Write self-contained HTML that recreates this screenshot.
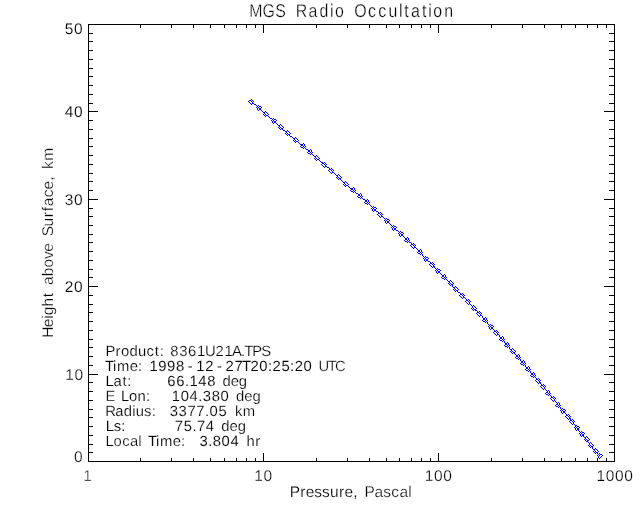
<!DOCTYPE html>
<html lang="en">
<head>
<meta charset="utf-8">
<title>MGS Radio Occultation</title>
<style>
html,body{margin:0;padding:0;background:#fff;width:640px;height:512px;overflow:hidden}
svg{display:block}
text{text-rendering:geometricPrecision}
</style>
</head>
<body>
<svg width="640" height="512" viewBox="0 0 640 512">
<rect x="0" y="0" width="640" height="512" fill="#ffffff"/>
<g class="axes" shape-rendering="crispEdges" fill="none" stroke="#000000" stroke-width="1"><rect x="88.5" y="24.5" width="526" height="437"/><path d="M140.5 462v-4M140.5 24v4M171.5 462v-4M171.5 24v4M193.5 462v-4M193.5 24v4M210.5 462v-4M210.5 24v4M224.5 462v-4M224.5 24v4M236.5 462v-4M236.5 24v4M246.5 462v-4M246.5 24v4M255.5 462v-4M255.5 24v4M263.5 462v-9M263.5 24v9M316.5 462v-4M316.5 24v4M347.5 462v-4M347.5 24v4M369.5 462v-4M369.5 24v4M386.5 462v-4M386.5 24v4M399.5 462v-4M399.5 24v4M411.5 462v-4M411.5 24v4M421.5 462v-4M421.5 24v4M430.5 462v-4M430.5 24v4M438.5 462v-9M438.5 24v9M491.5 462v-4M491.5 24v4M522.5 462v-4M522.5 24v4M544.5 462v-4M544.5 24v4M561.5 462v-4M561.5 24v4M575.5 462v-4M575.5 24v4M587.5 462v-4M587.5 24v4M597.5 462v-4M597.5 24v4M606.5 462v-4M606.5 24v4M88 452.5h5M615 452.5h-6M88 444.5h5M615 444.5h-6M88 435.5h5M615 435.5h-6M88 426.5h5M615 426.5h-6M88 417.5h5M615 417.5h-6M88 409.5h5M615 409.5h-6M88 400.5h5M615 400.5h-6M88 391.5h5M615 391.5h-6M88 382.5h5M615 382.5h-6M88 374.5h10M615 374.5h-11M88 365.5h5M615 365.5h-6M88 356.5h5M615 356.5h-6M88 347.5h5M615 347.5h-6M88 339.5h5M615 339.5h-6M88 330.5h5M615 330.5h-6M88 321.5h5M615 321.5h-6M88 312.5h5M615 312.5h-6M88 304.5h5M615 304.5h-6M88 295.5h5M615 295.5h-6M88 286.5h10M615 286.5h-11M88 277.5h5M615 277.5h-6M88 269.5h5M615 269.5h-6M88 260.5h5M615 260.5h-6M88 251.5h5M615 251.5h-6M88 242.5h5M615 242.5h-6M88 234.5h5M615 234.5h-6M88 225.5h5M615 225.5h-6M88 216.5h5M615 216.5h-6M88 208.5h5M615 208.5h-6M88 199.5h10M615 199.5h-11M88 190.5h5M615 190.5h-6M88 181.5h5M615 181.5h-6M88 173.5h5M615 173.5h-6M88 164.5h5M615 164.5h-6M88 155.5h5M615 155.5h-6M88 146.5h5M615 146.5h-6M88 138.5h5M615 138.5h-6M88 129.5h5M615 129.5h-6M88 120.5h5M615 120.5h-6M88 111.5h10M615 111.5h-11M88 103.5h5M615 103.5h-6M88 94.5h5M615 94.5h-6M88 85.5h5M615 85.5h-6M88 76.5h5M615 76.5h-6M88 68.5h5M615 68.5h-6M88 59.5h5M615 59.5h-6M88 50.5h5M615 50.5h-6M88 41.5h5M615 41.5h-6M88 33.5h5M615 33.5h-6"/></g>
<path class="data" shape-rendering="crispEdges" fill="#0000ff" d="M251 99h1v1h-1zM249 100h2v1h-2zM252 100h1v1h-1zM248 101h1v1h-1zM251 101h1v1h-1zM253 101h1v1h-1zM249 102h1v1h-1zM252 102h1v1h-1zM250 103h1v1h-1zM252 103h2v1h-2zM251 104h1v1h-1zM254 104h2v1h-2zM256 105h1v1h-1zM258 105h1v1h-1zM257 106h1v1h-1zM259 106h2v1h-2zM256 107h1v1h-1zM258 107h1v1h-1zM261 107h1v1h-1zM257 108h1v1h-1zM259 108h2v1h-2zM257 109h1v1h-1zM259 109h2v1h-2zM258 110h1v1h-1zM261 110h1v1h-1zM262 111h1v1h-1zM265 111h1v1h-1zM263 112h2v1h-2zM266 112h1v1h-1zM264 113h1v1h-1zM267 113h1v1h-1zM263 114h1v1h-1zM265 114h1v1h-1zM268 114h1v1h-1zM264 115h1v1h-1zM266 115h2v1h-2zM265 116h1v1h-1zM268 116h1v1h-1zM269 117h1v1h-1zM270 118h2v1h-2zM273 118h1v1h-1zM272 119h1v1h-1zM274 119h2v1h-2zM271 120h1v1h-1zM273 120h1v1h-1zM276 120h1v1h-1zM272 121h1v1h-1zM274 121h2v1h-2zM272 122h1v1h-1zM274 122h2v1h-2zM273 123h1v1h-1zM276 123h1v1h-1zM277 124h1v1h-1zM280 124h1v1h-1zM278 125h2v1h-2zM281 125h1v1h-1zM279 126h1v1h-1zM282 126h1v1h-1zM278 127h1v1h-1zM280 127h1v1h-1zM283 127h1v1h-1zM279 128h1v1h-1zM281 128h2v1h-2zM280 129h1v1h-1zM282 129h1v1h-1zM283 130h2v1h-2zM287 130h1v1h-1zM285 131h2v1h-2zM288 131h1v1h-1zM286 132h1v1h-1zM289 132h1v1h-1zM285 133h1v1h-1zM287 133h1v1h-1zM290 133h1v1h-1zM286 134h1v1h-1zM288 134h2v1h-2zM287 135h1v1h-1zM289 135h1v1h-1zM290 136h2v1h-2zM292 137h1v1h-1zM295 137h1v1h-1zM293 138h2v1h-2zM296 138h1v1h-1zM294 139h1v1h-1zM297 139h1v1h-1zM293 140h1v1h-1zM295 140h1v1h-1zM298 140h1v1h-1zM294 141h1v1h-1zM296 141h2v1h-2zM295 142h1v1h-1zM298 142h1v1h-1zM299 143h1v1h-1zM303 143h1v1h-1zM300 144h3v1h-3zM304 144h1v1h-1zM301 145h2v1h-2zM304 145h1v1h-1zM300 146h1v1h-1zM303 146h1v1h-1zM305 146h1v1h-1zM301 147h2v1h-2zM304 147h1v1h-1zM303 148h1v1h-1zM305 148h1v1h-1zM306 149h2v1h-2zM310 149h1v1h-1zM308 150h2v1h-2zM311 150h1v1h-1zM308 151h2v1h-2zM311 151h1v1h-1zM307 152h1v1h-1zM310 152h1v1h-1zM312 152h1v1h-1zM308 153h2v1h-2zM311 153h1v1h-1zM310 154h1v1h-1zM312 154h1v1h-1zM313 155h1v1h-1zM316 155h1v1h-1zM314 156h2v1h-2zM317 156h1v1h-1zM315 157h1v1h-1zM318 157h1v1h-1zM314 158h1v1h-1zM316 158h1v1h-1zM319 158h1v1h-1zM315 159h1v1h-1zM317 159h2v1h-2zM316 160h1v1h-1zM319 160h1v1h-1zM320 161h1v1h-1zM321 162h2v1h-2zM324 162h1v1h-1zM322 163h2v1h-2zM325 163h1v1h-1zM321 164h1v1h-1zM324 164h1v1h-1zM326 164h1v1h-1zM322 165h1v1h-1zM325 165h1v1h-1zM323 166h1v1h-1zM325 166h2v1h-2zM324 167h1v1h-1zM327 167h2v1h-2zM329 168h1v1h-1zM331 168h1v1h-1zM329 169h2v1h-2zM332 169h1v1h-1zM328 170h1v1h-1zM331 170h1v1h-1zM333 170h1v1h-1zM329 171h1v1h-1zM332 171h1v1h-1zM330 172h1v1h-1zM332 172h2v1h-2zM331 173h1v1h-1zM334 173h1v1h-1zM335 174h1v1h-1zM338 174h1v1h-1zM336 175h2v1h-2zM339 175h1v1h-1zM337 176h1v1h-1zM340 176h1v1h-1zM336 177h1v1h-1zM338 177h1v1h-1zM341 177h1v1h-1zM337 178h1v1h-1zM339 178h2v1h-2zM338 179h1v1h-1zM340 179h1v1h-1zM341 180h1v1h-1zM342 181h1v1h-1zM345 181h1v1h-1zM343 182h2v1h-2zM346 182h1v1h-1zM344 183h1v1h-1zM347 183h1v1h-1zM343 184h1v1h-1zM345 184h1v1h-1zM348 184h1v1h-1zM344 185h1v1h-1zM346 185h2v1h-2zM345 186h1v1h-1zM348 186h1v1h-1zM349 187h1v1h-1zM353 187h1v1h-1zM350 188h3v1h-3zM354 188h1v1h-1zM351 189h2v1h-2zM354 189h1v1h-1zM350 190h1v1h-1zM353 190h1v1h-1zM355 190h1v1h-1zM351 191h2v1h-2zM354 191h1v1h-1zM353 192h1v1h-1zM355 192h1v1h-1zM356 193h2v1h-2zM360 193h1v1h-1zM358 194h2v1h-2zM361 194h1v1h-1zM358 195h2v1h-2zM361 195h1v1h-1zM357 196h1v1h-1zM360 196h1v1h-1zM362 196h1v1h-1zM358 197h2v1h-2zM361 197h1v1h-1zM360 198h1v1h-1zM362 198h1v1h-1zM363 199h2v1h-2zM367 199h1v1h-1zM365 200h2v1h-2zM368 200h1v1h-1zM365 201h2v1h-2zM368 201h1v1h-1zM364 202h1v1h-1zM367 202h1v1h-1zM369 202h1v1h-1zM365 203h2v1h-2zM368 203h1v1h-1zM367 204h1v1h-1zM369 204h1v1h-1zM370 205h1v1h-1zM371 206h1v1h-1zM373 206h1v1h-1zM372 207h1v1h-1zM374 207h2v1h-2zM371 208h1v1h-1zM373 208h1v1h-1zM376 208h1v1h-1zM372 209h1v1h-1zM374 209h2v1h-2zM372 210h1v1h-1zM374 210h2v1h-2zM373 211h1v1h-1zM376 211h2v1h-2zM378 212h1v1h-1zM380 212h1v1h-1zM378 213h2v1h-2zM381 213h1v1h-1zM377 214h1v1h-1zM380 214h1v1h-1zM382 214h1v1h-1zM378 215h1v1h-1zM381 215h1v1h-1zM379 216h1v1h-1zM381 216h2v1h-2zM380 217h1v1h-1zM383 217h1v1h-1zM384 218h1v1h-1zM386 218h1v1h-1zM385 219h1v1h-1zM387 219h2v1h-2zM384 220h1v1h-1zM386 220h1v1h-1zM389 220h1v1h-1zM385 221h1v1h-1zM387 221h2v1h-2zM385 222h1v1h-1zM387 222h2v1h-2zM386 223h1v1h-1zM389 223h1v1h-1zM390 224h1v1h-1zM391 225h1v1h-1zM393 225h1v1h-1zM392 226h1v1h-1zM394 226h2v1h-2zM391 227h1v1h-1zM393 227h1v1h-1zM396 227h1v1h-1zM392 228h1v1h-1zM394 228h2v1h-2zM392 229h1v1h-1zM394 229h2v1h-2zM393 230h1v1h-1zM396 230h2v1h-2zM398 231h1v1h-1zM400 231h1v1h-1zM399 232h1v1h-1zM401 232h2v1h-2zM398 233h1v1h-1zM400 233h1v1h-1zM403 233h1v1h-1zM399 234h1v1h-1zM401 234h2v1h-2zM399 235h1v1h-1zM401 235h2v1h-2zM400 236h1v1h-1zM403 236h1v1h-1zM404 237h1v1h-1zM407 237h1v1h-1zM405 238h2v1h-2zM408 238h1v1h-1zM405 239h2v1h-2zM408 239h1v1h-1zM404 240h1v1h-1zM407 240h1v1h-1zM409 240h1v1h-1zM405 241h2v1h-2zM408 241h1v1h-1zM407 242h1v1h-1zM409 242h2v1h-2zM411 243h1v1h-1zM413 243h1v1h-1zM411 244h2v1h-2zM414 244h1v1h-1zM410 245h1v1h-1zM413 245h1v1h-1zM415 245h1v1h-1zM411 246h1v1h-1zM414 246h1v1h-1zM412 247h1v1h-1zM414 247h2v1h-2zM413 248h1v1h-1zM416 248h1v1h-1zM417 249h1v1h-1zM420 249h1v1h-1zM418 250h2v1h-2zM421 250h1v1h-1zM418 251h2v1h-2zM421 251h1v1h-1zM417 252h1v1h-1zM420 252h1v1h-1zM422 252h1v1h-1zM418 253h2v1h-2zM421 253h1v1h-1zM420 254h1v1h-1zM422 254h1v1h-1zM422 255h1v1h-1zM423 256h1v1h-1zM425 256h1v1h-1zM424 257h1v1h-1zM426 257h2v1h-2zM423 258h1v1h-1zM425 258h1v1h-1zM428 258h1v1h-1zM424 259h1v1h-1zM426 259h2v1h-2zM424 260h1v1h-1zM426 260h2v1h-2zM425 261h1v1h-1zM428 261h2v1h-2zM430 262h1v1h-1zM432 262h1v1h-1zM430 263h2v1h-2zM433 263h1v1h-1zM429 264h1v1h-1zM432 264h1v1h-1zM434 264h1v1h-1zM430 265h1v1h-1zM433 265h1v1h-1zM431 266h1v1h-1zM433 266h2v1h-2zM432 267h1v1h-1zM434 267h1v1h-1zM435 268h1v1h-1zM437 268h1v1h-1zM436 269h1v1h-1zM438 269h2v1h-2zM435 270h1v1h-1zM437 270h1v1h-1zM440 270h1v1h-1zM436 271h1v1h-1zM438 271h2v1h-2zM436 272h1v1h-1zM438 272h2v1h-2zM437 273h1v1h-1zM440 273h1v1h-1zM441 274h1v1h-1zM444 274h1v1h-1zM442 275h2v1h-2zM445 275h1v1h-1zM442 276h2v1h-2zM445 276h1v1h-1zM441 277h1v1h-1zM444 277h1v1h-1zM446 277h1v1h-1zM442 278h2v1h-2zM445 278h1v1h-1zM444 279h1v1h-1zM446 279h1v1h-1zM447 280h1v1h-1zM450 280h1v1h-1zM448 281h2v1h-2zM451 281h1v1h-1zM449 282h1v1h-1zM452 282h1v1h-1zM448 283h1v1h-1zM450 283h1v1h-1zM453 283h1v1h-1zM449 284h1v1h-1zM451 284h2v1h-2zM450 285h1v1h-1zM452 285h1v1h-1zM452 286h1v1h-1zM455 286h1v1h-1zM453 287h2v1h-2zM456 287h1v1h-1zM454 288h1v1h-1zM457 288h1v1h-1zM453 289h1v1h-1zM455 289h1v1h-1zM458 289h1v1h-1zM454 290h1v1h-1zM456 290h2v1h-2zM455 291h1v1h-1zM457 291h1v1h-1zM458 292h2v1h-2zM460 293h1v1h-1zM462 293h1v1h-1zM460 294h2v1h-2zM463 294h1v1h-1zM459 295h1v1h-1zM462 295h1v1h-1zM464 295h1v1h-1zM460 296h1v1h-1zM463 296h1v1h-1zM461 297h1v1h-1zM463 297h2v1h-2zM462 298h1v1h-1zM465 298h1v1h-1zM466 299h1v1h-1zM468 299h1v1h-1zM466 300h2v1h-2zM469 300h1v1h-1zM465 301h1v1h-1zM468 301h1v1h-1zM470 301h1v1h-1zM466 302h1v1h-1zM469 302h1v1h-1zM467 303h1v1h-1zM469 303h1v1h-1zM468 304h1v1h-1zM470 304h1v1h-1zM471 305h1v1h-1zM473 305h1v1h-1zM472 306h1v1h-1zM474 306h1v1h-1zM472 307h1v1h-1zM475 307h1v1h-1zM471 308h1v1h-1zM473 308h1v1h-1zM476 308h1v1h-1zM472 309h1v1h-1zM474 309h2v1h-2zM473 310h1v1h-1zM475 310h2v1h-2zM477 311h1v1h-1zM479 311h1v1h-1zM477 312h2v1h-2zM480 312h1v1h-1zM476 313h1v1h-1zM479 313h1v1h-1zM481 313h1v1h-1zM477 314h1v1h-1zM480 314h1v1h-1zM478 315h1v1h-1zM480 315h2v1h-2zM479 316h1v1h-1zM482 316h1v1h-1zM482 317h1v1h-1zM485 317h1v1h-1zM483 318h2v1h-2zM486 318h1v1h-1zM483 319h2v1h-2zM486 319h1v1h-1zM482 320h1v1h-1zM485 320h1v1h-1zM487 320h1v1h-1zM483 321h2v1h-2zM486 321h1v1h-1zM485 322h1v1h-1zM487 322h1v1h-1zM487 323h1v1h-1zM488 324h1v1h-1zM490 324h1v1h-1zM489 325h1v1h-1zM491 325h2v1h-2zM488 326h1v1h-1zM490 326h1v1h-1zM493 326h1v1h-1zM489 327h1v1h-1zM491 327h2v1h-2zM489 328h1v1h-1zM491 328h2v1h-2zM490 329h1v1h-1zM493 329h1v1h-1zM494 330h1v1h-1zM496 330h1v1h-1zM494 331h2v1h-2zM497 331h1v1h-1zM493 332h1v1h-1zM496 332h1v1h-1zM498 332h1v1h-1zM494 333h1v1h-1zM497 333h1v1h-1zM495 334h1v1h-1zM497 334h2v1h-2zM496 335h1v1h-1zM499 335h1v1h-1zM499 336h1v1h-1zM502 336h1v1h-1zM500 337h2v1h-2zM503 337h1v1h-1zM500 338h2v1h-2zM503 338h1v1h-1zM499 339h1v1h-1zM502 339h1v1h-1zM504 339h1v1h-1zM500 340h2v1h-2zM503 340h1v1h-1zM502 341h1v1h-1zM504 341h1v1h-1zM504 342h1v1h-1zM507 342h1v1h-1zM505 343h2v1h-2zM508 343h1v1h-1zM505 344h2v1h-2zM508 344h1v1h-1zM504 345h1v1h-1zM507 345h1v1h-1zM509 345h1v1h-1zM505 346h2v1h-2zM508 346h1v1h-1zM507 347h1v1h-1zM509 347h1v1h-1zM509 348h1v1h-1zM512 348h1v1h-1zM510 349h2v1h-2zM513 349h1v1h-1zM511 350h1v1h-1zM514 350h1v1h-1zM510 351h1v1h-1zM512 351h1v1h-1zM515 351h1v1h-1zM511 352h1v1h-1zM513 352h2v1h-2zM512 353h1v1h-1zM514 353h1v1h-1zM515 354h1v1h-1zM518 354h1v1h-1zM516 355h2v1h-2zM519 355h1v1h-1zM516 356h2v1h-2zM519 356h1v1h-1zM515 357h1v1h-1zM518 357h1v1h-1zM520 357h1v1h-1zM516 358h2v1h-2zM519 358h1v1h-1zM518 359h1v1h-1zM520 359h1v1h-1zM520 360h1v1h-1zM523 360h1v1h-1zM521 361h2v1h-2zM524 361h1v1h-1zM521 362h2v1h-2zM524 362h1v1h-1zM520 363h1v1h-1zM523 363h1v1h-1zM525 363h1v1h-1zM521 364h2v1h-2zM524 364h1v1h-1zM523 365h1v1h-1zM525 365h1v1h-1zM525 366h1v1h-1zM528 366h1v1h-1zM526 367h2v1h-2zM529 367h1v1h-1zM526 368h2v1h-2zM529 368h1v1h-1zM525 369h1v1h-1zM528 369h1v1h-1zM530 369h1v1h-1zM526 370h2v1h-2zM529 370h1v1h-1zM528 371h1v1h-1zM530 371h1v1h-1zM530 372h1v1h-1zM533 372h1v1h-1zM531 373h2v1h-2zM534 373h1v1h-1zM531 374h2v1h-2zM534 374h1v1h-1zM530 375h1v1h-1zM533 375h1v1h-1zM535 375h1v1h-1zM531 376h2v1h-2zM534 376h1v1h-1zM533 377h1v1h-1zM535 377h1v1h-1zM536 378h1v1h-1zM538 378h1v1h-1zM536 379h2v1h-2zM539 379h1v1h-1zM535 380h1v1h-1zM538 380h1v1h-1zM540 380h1v1h-1zM536 381h1v1h-1zM539 381h1v1h-1zM537 382h1v1h-1zM539 382h2v1h-2zM538 383h1v1h-1zM540 383h1v1h-1zM541 384h1v1h-1zM543 384h1v1h-1zM541 385h2v1h-2zM544 385h1v1h-1zM540 386h1v1h-1zM543 386h1v1h-1zM545 386h1v1h-1zM541 387h1v1h-1zM544 387h1v1h-1zM542 388h1v1h-1zM544 388h1v1h-1zM543 389h1v1h-1zM545 389h1v1h-1zM546 390h1v1h-1zM548 390h1v1h-1zM547 391h1v1h-1zM549 391h1v1h-1zM546 392h2v1h-2zM549 392h1v1h-1zM545 393h1v1h-1zM548 393h1v1h-1zM550 393h1v1h-1zM546 394h2v1h-2zM549 394h1v1h-1zM548 395h1v1h-1zM550 395h1v1h-1zM551 396h1v1h-1zM553 396h1v1h-1zM551 397h2v1h-2zM554 397h1v1h-1zM550 398h1v1h-1zM553 398h1v1h-1zM555 398h1v1h-1zM551 399h1v1h-1zM554 399h1v1h-1zM552 400h1v1h-1zM554 400h1v1h-1zM553 401h1v1h-1zM555 401h1v1h-1zM556 402h1v1h-1zM558 402h1v1h-1zM557 403h1v1h-1zM559 403h1v1h-1zM556 404h2v1h-2zM559 404h1v1h-1zM555 405h1v1h-1zM558 405h1v1h-1zM560 405h1v1h-1zM556 406h2v1h-2zM559 406h1v1h-1zM558 407h1v1h-1zM560 407h1v1h-1zM560 408h1v1h-1zM562 408h1v1h-1zM561 409h1v1h-1zM563 409h2v1h-2zM560 410h1v1h-1zM562 410h1v1h-1zM565 410h1v1h-1zM561 411h1v1h-1zM563 411h2v1h-2zM561 412h1v1h-1zM563 412h2v1h-2zM562 413h1v1h-1zM565 413h1v1h-1zM566 414h1v1h-1zM568 414h1v1h-1zM566 415h2v1h-2zM569 415h1v1h-1zM565 416h1v1h-1zM568 416h1v1h-1zM570 416h1v1h-1zM566 417h1v1h-1zM569 417h1v1h-1zM567 418h1v1h-1zM569 418h2v1h-2zM568 419h1v1h-1zM570 419h1v1h-1zM572 419h1v1h-1zM570 420h2v1h-2zM573 420h1v1h-1zM569 421h1v1h-1zM572 421h1v1h-1zM574 421h1v1h-1zM570 422h1v1h-1zM573 422h1v1h-1zM571 423h1v1h-1zM573 423h1v1h-1zM572 424h1v1h-1zM574 424h1v1h-1zM575 425h2v1h-2zM575 426h1v1h-1zM577 426h2v1h-2zM574 427h1v1h-1zM576 427h1v1h-1zM579 427h1v1h-1zM575 428h1v1h-1zM577 428h2v1h-2zM575 429h1v1h-1zM577 429h2v1h-2zM576 430h1v1h-1zM578 430h1v1h-1zM579 431h1v1h-1zM581 431h1v1h-1zM580 432h1v1h-1zM582 432h2v1h-2zM579 433h1v1h-1zM581 433h1v1h-1zM584 433h1v1h-1zM580 434h1v1h-1zM582 434h2v1h-2zM580 435h1v1h-1zM582 435h2v1h-2zM581 436h1v1h-1zM583 436h1v1h-1zM586 436h1v1h-1zM584 437h2v1h-2zM587 437h1v1h-1zM585 438h1v1h-1zM588 438h1v1h-1zM584 439h1v1h-1zM586 439h1v1h-1zM589 439h1v1h-1zM585 440h1v1h-1zM587 440h2v1h-2zM586 441h2v1h-2zM588 442h1v1h-1zM590 442h1v1h-1zM589 443h1v1h-1zM591 443h1v1h-1zM589 444h1v1h-1zM592 444h1v1h-1zM588 445h1v1h-1zM590 445h1v1h-1zM593 445h1v1h-1zM589 446h1v1h-1zM591 446h2v1h-2zM590 447h1v1h-1zM592 447h1v1h-1zM592 448h1v1h-1zM595 448h1v1h-1zM593 449h2v1h-2zM596 449h1v1h-1zM594 450h1v1h-1zM597 450h1v1h-1zM593 451h1v1h-1zM595 451h1v1h-1zM598 451h1v1h-1zM594 452h1v1h-1zM596 452h2v1h-2zM595 453h1v1h-1zM597 453h1v1h-1zM599 453h1v1h-1zM598 454h1v1h-1zM600 454h2v1h-2zM597 455h1v1h-1zM599 455h1v1h-1zM602 455h1v1h-1zM598 456h1v1h-1zM601 456h1v1h-1zM598 457h1v1h-1zM600 457h1v1h-1zM599 458h1v1h-1z"/>
<g class="labels" font-family="'Liberation Sans', sans-serif" fill="#000000">
<text y="17" font-size="18.5" transform="scale(0.86 1)"><tspan x="289.74 305.29 320.02" stroke="#ffffff" stroke-width="0.37">MGS</tspan> <tspan x="343.92 358.82 371.53 383.64 389.58" stroke="#ffffff" stroke-width="0.33">Radio</tspan> <tspan x="411.93 427.87 439.91 451.76 463.88 470.05 477.84 490.77 497.97 503.91 516.61" stroke="#ffffff" stroke-width="0.27">Occultation</tspan></text>
<text y="497" font-size="15.5"><tspan x="289.83 300.27 305.71 314.23 322.08 329.96 339.08 344.51 353.14" stroke="#ffffff" stroke-width="0.19">Pressure,</tspan> <tspan x="364.43 374.52 383.28 391.36 399.47 408.3" stroke="#ffffff" stroke-width="0.26">Pascal</tspan></text>
<text y="0" font-size="15.5" transform="translate(53 242.5) rotate(-90)"><tspan x="-95.33 -84.86 -76.31 -72.7 -63.98 -54.71" stroke="#ffffff" stroke-width="0.24">Height</tspan> <tspan x="-42.41 -33.69 -24.97 -16.5 -9.13" stroke="#ffffff" stroke-width="0.34">above</tspan> <tspan x="6.33 16.14 25.21 31.37 36.33 45.26 53.09 61.67" stroke="#ffffff" stroke-width="0.26">Surface,</tspan> <tspan x="73.49 81.69" stroke="#ffffff" stroke-width="0.35">km</tspan></text>
<text y="481" font-size="15.5"><tspan x="83.34" stroke="#ffffff" stroke-width="0.44">1</tspan></text>
<text y="481" font-size="15.5"><tspan x="254.22 263.46" stroke="#ffffff" stroke-width="0.26">10</tspan></text>
<text y="481" font-size="15.5"><tspan x="424.85 434.09 443.33" stroke="#ffffff" stroke-width="0.26">100</tspan></text>
<text y="481" font-size="15.5"><tspan x="596.48 605.72 614.96 624.2" stroke="#ffffff" stroke-width="0.23">1000</tspan></text>
<text y="462" font-size="15.5"><tspan x="74.07" stroke="#ffffff" stroke-width="0.28">0</tspan></text>
<text y="380" font-size="15.5"><tspan x="65.33 74.57" stroke="#ffffff" stroke-width="0.26">10</tspan></text>
<text y="292" font-size="15.5"><tspan x="64.83 74.07" stroke="#ffffff" stroke-width="0.16">20</tspan></text>
<text y="205" font-size="15.5"><tspan x="64.83 74.07" stroke="#ffffff" stroke-width="0.16">30</tspan></text>
<text y="117" font-size="15.5"><tspan x="64.83 74.07" stroke="#ffffff" stroke-width="0.14">40</tspan></text>
<text y="34" font-size="15.5"><tspan x="64.83 74.07" stroke="#ffffff" stroke-width="0.17">50</tspan></text>
<text y="356" font-size="14.8"><tspan x="105.62 115.62 121.05 129.47 137.89 146.5 154.79 159.66" stroke="#ffffff" stroke-width="0.18">Product:</tspan> <tspan x="170.34 179.2 188.06 196.92 204.99 215.52 224.38 231.98 241.06 244.35 252.13 261.22" stroke="#ffffff" stroke-width="0.2">8361U21A.TPS</tspan></text>
<text y="371" font-size="14.8"><tspan x="104.92 113.12 117.01 129.69 137.96" stroke="#ffffff" stroke-width="0.15">Time:</tspan> <tspan x="149.38 158.24 167.1 175.96 187.8 196.34 205.2 217.04 225.57 234.43 242 250.38 259.24 267.95 272.53 281.39 290.1 294.68 303.54" stroke="#ffffff" stroke-width="0.09">1998-12-27T20:25:20</tspan> <tspan x="318.45 327.7 335.07" stroke="#ffffff" stroke-width="0.32">UTC</tspan></text>
<text y="386" font-size="14.8"><tspan x="105.55 113.52 122.45 127.32" stroke="#ffffff" stroke-width="0.18">Lat:</tspan> <tspan x="167.35 176.21 184.91 189.5 198.36 207.22" stroke="#ffffff" stroke-width="0.1">66.148</tspan> <tspan x="222.44 230.64 238.84" stroke="#ffffff" stroke-width="0.18">deg</tspan></text>
<text y="401" font-size="14.8"><tspan x="105.42" stroke="#ffffff" stroke-width="0.31">E</tspan> <tspan x="121.05 129.03 137.45 145.93" stroke="#ffffff" stroke-width="0.15">Lon:</tspan> <tspan x="171.78 180.64 189.5 198.2 202.79 211.65 220.51" stroke="#ffffff" stroke-width="0.14">104.380</tspan> <tspan x="235.98 244.18 252.38" stroke="#ffffff" stroke-width="0.2">deg</tspan></text>
<text y="416" font-size="14.8"><tspan x="105.21 115.3 123.71 132.16 135.67 144.06 151.69" stroke="#ffffff" stroke-width="0.18">Radius:</tspan> <tspan x="169.7 178.56 187.42 196.28 204.98 209.57 218.43" stroke="#ffffff" stroke-width="0.14">3377.05</tspan> <tspan x="234.88 242.82" stroke="#ffffff" stroke-width="0.23">km</tspan></text>
<text y="431" font-size="14.8"><tspan x="105.8 113.75 121.37" stroke="#ffffff" stroke-width="0.11">Ls:</tspan> <tspan x="174.82 183.68 192.39 196.97 205.83" stroke="#ffffff" stroke-width="0.12">75.74</tspan> <tspan x="221.31 229.5 237.7" stroke="#ffffff" stroke-width="0.18">deg</tspan></text>
<text y="446" font-size="14.8"><tspan x="105.55 113.52 122.14 129.91 138.37" stroke="#ffffff" stroke-width="0.25">Local</tspan> <tspan x="147.89 156.09 159.98 172.66 180.93" stroke="#ffffff" stroke-width="0.15">Time:</tspan> <tspan x="199.44 208.14 212.73 221.59 230.45" stroke="#ffffff" stroke-width="0.09">3.804</tspan> <tspan x="246.42 255.16" stroke="#ffffff" stroke-width="0.16">hr</tspan></text>
</g>
</svg>
</body>
</html>
